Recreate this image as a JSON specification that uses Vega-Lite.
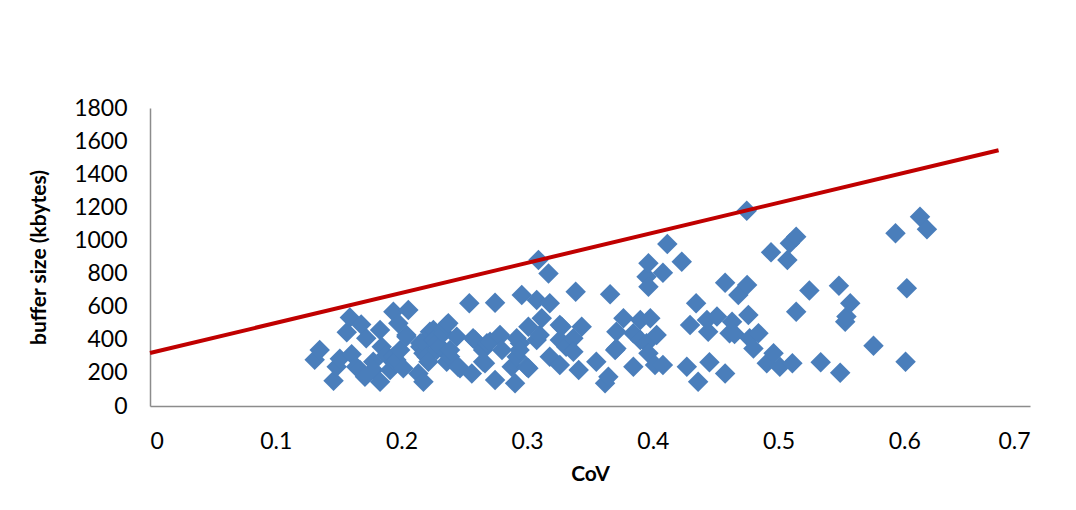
{
  "$schema": "https://vega.github.io/schema/vega-lite/v6.json",
  "width": 880,
  "height": 298,
  "autosize": {"type": "none"},
  "padding": {"left": 150, "top": 108, "right": 46, "bottom": 104},
  "background": "white",
  "config": {
    "view": {"stroke": null},
    "font": "Lato",
    "axis": {
      "grid": false,
      "ticks": false,
      "domainColor": "#8c8c8c",
      "domainWidth": 1.5,
      "labelFont": "Lato",
      "labelFontSize": 23,
      "labelColor": "#000000",
      "labelOverlap": false,
      "titleFont": "Lato",
      "titleFontSize": 21,
      "titleFontWeight": "bold",
      "titleColor": "#000000"
    }
  },
  "datasets": {
    "pts": [
      {"cov":0.131,"buf":280},{"cov":0.135,"buf":338},{"cov":0.146,"buf":152},{"cov":0.1485,"buf":237},
      {"cov":0.151,"buf":285},{"cov":0.1565,"buf":445},{"cov":0.159,"buf":535},{"cov":0.1604,"buf":313},
      {"cov":0.164,"buf":237},{"cov":0.167,"buf":217},{"cov":0.168,"buf":492},{"cov":0.171,"buf":177},
      {"cov":0.172,"buf":409},{"cov":0.1776,"buf":268},{"cov":0.1776,"buf":217},{"cov":0.183,"buf":459},
      {"cov":0.183,"buf":147},{"cov":0.1843,"buf":358},{"cov":0.188,"buf":308},{"cov":0.191,"buf":217},
      {"cov":0.1936,"buf":570},{"cov":0.1936,"buf":298},{"cov":0.196,"buf":258},{"cov":0.196,"buf":278},
      {"cov":0.1975,"buf":500},{"cov":0.199,"buf":338},{"cov":0.2015,"buf":228},{"cov":0.204,"buf":429},
      {"cov":0.204,"buf":419},{"cov":0.2055,"buf":580},{"cov":0.2135,"buf":197},{"cov":0.215,"buf":358},
      {"cov":0.215,"buf":379},{"cov":0.2175,"buf":318},{"cov":0.2175,"buf":388},{"cov":0.2175,"buf":147},
      {"cov":0.22,"buf":298},{"cov":0.2215,"buf":268},{"cov":0.2227,"buf":449},{"cov":0.2254,"buf":459},
      {"cov":0.2254,"buf":399},{"cov":0.228,"buf":338},{"cov":0.228,"buf":379},{"cov":0.2307,"buf":358},
      {"cov":0.2333,"buf":439},{"cov":0.236,"buf":489},{"cov":0.236,"buf":318},{"cov":0.236,"buf":268},
      {"cov":0.2373,"buf":500},{"cov":0.2387,"buf":298},{"cov":0.2387,"buf":338},{"cov":0.244,"buf":419},
      {"cov":0.245,"buf":237},{"cov":0.2466,"buf":228},{"cov":0.254,"buf":620},{"cov":0.256,"buf":197},
      {"cov":0.257,"buf":409},{"cov":0.2585,"buf":399},{"cov":0.265,"buf":268},{"cov":0.265,"buf":338},
      {"cov":0.2665,"buf":258},{"cov":0.268,"buf":379},{"cov":0.2705,"buf":388},{"cov":0.2745,"buf":624},
      {"cov":0.2745,"buf":157},{"cov":0.278,"buf":419},{"cov":0.2784,"buf":429},{"cov":0.28,"buf":338},
      {"cov":0.2877,"buf":237},{"cov":0.2904,"buf":137},{"cov":0.2917,"buf":409},{"cov":0.2917,"buf":298},
      {"cov":0.2943,"buf":379},{"cov":0.294,"buf":338},{"cov":0.2957,"buf":670},{"cov":0.2997,"buf":237},
      {"cov":0.301,"buf":479},{"cov":0.301,"buf":228},{"cov":0.3076,"buf":640},{"cov":0.3076,"buf":399},
      {"cov":0.309,"buf":882},{"cov":0.31,"buf":429},{"cov":0.3116,"buf":530},{"cov":0.317,"buf":801},
      {"cov":0.318,"buf":620},{"cov":0.318,"buf":298},{"cov":0.326,"buf":489},{"cov":0.326,"buf":399},
      {"cov":0.326,"buf":248},{"cov":0.3275,"buf":479},{"cov":0.331,"buf":358},{"cov":0.3368,"buf":409},
      {"cov":0.3368,"buf":328},{"cov":0.3386,"buf":690},{"cov":0.341,"buf":217},{"cov":0.3434,"buf":479},
      {"cov":0.355,"buf":268},{"cov":0.362,"buf":137},{"cov":0.3646,"buf":177},{"cov":0.366,"buf":675},
      {"cov":0.37,"buf":338},{"cov":0.371,"buf":449},{"cov":0.371,"buf":348},{"cov":0.3766,"buf":530},
      {"cov":0.3845,"buf":439},{"cov":0.3845,"buf":237},{"cov":0.39,"buf":519},{"cov":0.39,"buf":399},
      {"cov":0.395,"buf":781},{"cov":0.395,"buf":379},{"cov":0.3965,"buf":862},{"cov":0.3965,"buf":721},
      {"cov":0.3965,"buf":318},{"cov":0.398,"buf":530},{"cov":0.4017,"buf":248},{"cov":0.403,"buf":429},
      {"cov":0.408,"buf":805},{"cov":0.408,"buf":248},{"cov":0.4115,"buf":978},{"cov":0.423,"buf":872},
      {"cov":0.427,"buf":237},{"cov":0.4296,"buf":489},{"cov":0.4344,"buf":620},{"cov":0.436,"buf":147},
      {"cov":0.443,"buf":519},{"cov":0.444,"buf":449},{"cov":0.445,"buf":264},{"cov":0.451,"buf":540},
      {"cov":0.4575,"buf":745},{"cov":0.4575,"buf":197},{"cov":0.461,"buf":439},{"cov":0.463,"buf":509},
      {"cov":0.465,"buf":435},{"cov":0.468,"buf":670},{"cov":0.4747,"buf":1180},{"cov":0.475,"buf":731},
      {"cov":0.476,"buf":550},{"cov":0.477,"buf":409},{"cov":0.48,"buf":348},{"cov":0.484,"buf":439},
      {"cov":0.4906,"buf":258},{"cov":0.494,"buf":928},{"cov":0.496,"buf":318},{"cov":0.501,"buf":237},
      {"cov":0.507,"buf":882},{"cov":0.509,"buf":983},{"cov":0.511,"buf":258},{"cov":0.514,"buf":1023},
      {"cov":0.514,"buf":570},{"cov":0.5245,"buf":697},{"cov":0.5335,"buf":264},{"cov":0.548,"buf":727},
      {"cov":0.549,"buf":201},{"cov":0.553,"buf":509},{"cov":0.554,"buf":540},{"cov":0.557,"buf":620},
      {"cov":0.5755,"buf":364},{"cov":0.593,"buf":1043},{"cov":0.601,"buf":268},{"cov":0.602,"buf":711},
      {"cov":0.6125,"buf":1143},{"cov":0.618,"buf":1067}
    ],
    "fit": [
      {"cov": 0, "buf": 320},
      {"cov": 0.675, "buf": 1545}
    ]
  },
  "encoding": {
    "x": {"field": "cov", "type": "quantitative",
          "scale": {"domain": [0, 0.7], "nice": false, "zero": true},
          "axis": {"title": "CoV", "values": [0, 0.1, 0.2, 0.3, 0.4, 0.5, 0.6, 0.7], "format": "~g", "labelOverlap": false, "labelPadding": 24, "titlePadding": 10}},
    "y": {"field": "buf", "type": "quantitative",
          "scale": {"domain": [0, 1800], "nice": false},
          "axis": {"title": "buffer size (kbytes)", "values": [0, 200, 400, 600, 800, 1000, 1200, 1400, 1600, 1800], "format": "d", "labelOverlap": false, "labelBound": false, "labelFlush": false, "labelPadding": 23, "titlePadding": 24}}
  },
  "layer": [
    {
      "data": {"name": "pts"},
      "mark": {"type": "point", "shape": "diamond", "filled": true, "size": 420, "color": "#4A7EBB", "opacity": 1}
    },
    {
      "data": {"name": "fit"},
      "mark": {"type": "line", "color": "#C00000", "strokeWidth": 4, "clip": false}
    }
  ]
}
